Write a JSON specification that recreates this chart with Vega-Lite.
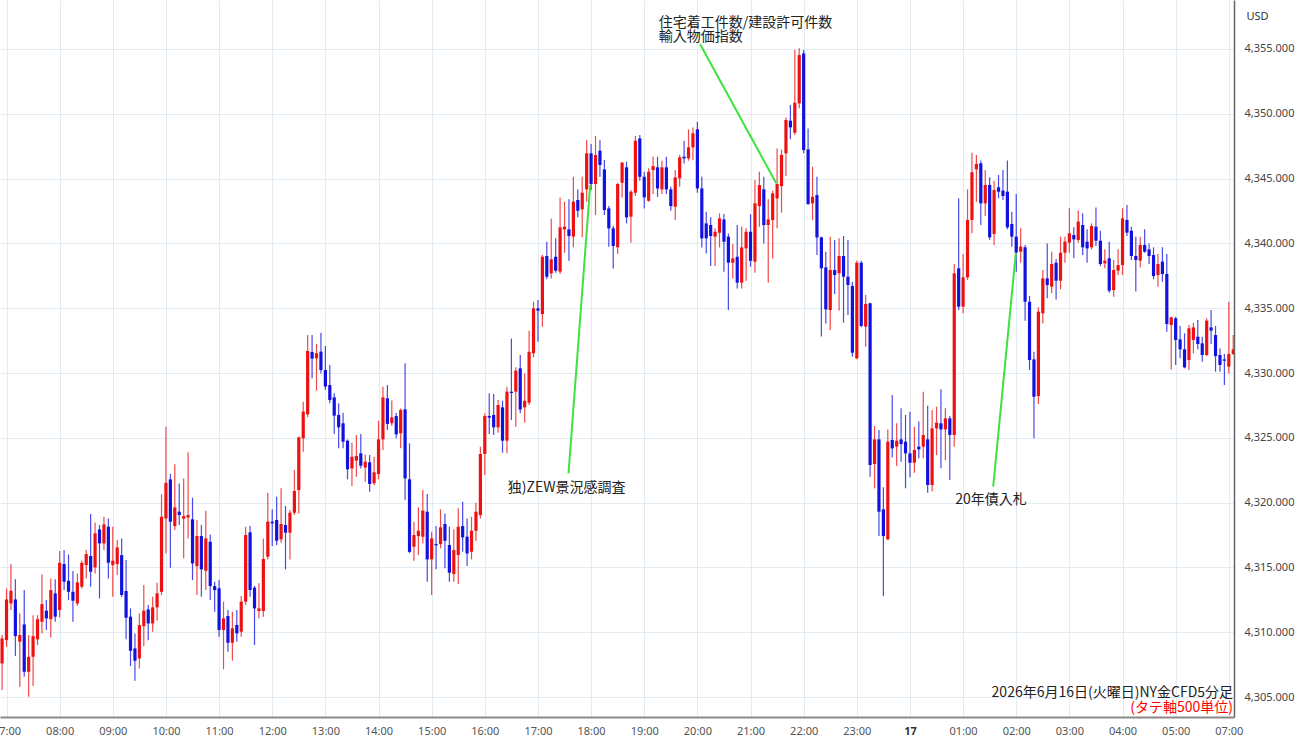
{
"$schema":"https://vega.github.io/schema/vega-lite/v6.json",
"width":1234,"height":717,
"autosize":{"type":"none"},
"padding":{"left":0,"top":0,"right":66,"bottom":28},
"background":"white",
"config":{"view":{"stroke":null},"font":"Noto Sans CJK JP"},
"datasets":{
"candles":[
{"i":-1,"o":4307.59,"h":4309.78,"l":4305.54,"c":4309.52},
{"i":0,"o":4309.39,"h":4313.38,"l":4308.88,"c":4312.53},
{"i":1,"o":4312.22,"h":4315.26,"l":4311.71,"c":4313.20},
{"i":2,"o":4312.53,"h":4314.08,"l":4308.16,"c":4309.70},
{"i":3,"o":4309.27,"h":4311.45,"l":4305.79,"c":4309.78},
{"i":4,"o":4310.60,"h":4313.25,"l":4306.57,"c":4306.95},
{"i":5,"o":4306.95,"h":4309.78,"l":4305.02,"c":4308.11},
{"i":6,"o":4308.11,"h":4311.32,"l":4305.85,"c":4309.70},
{"i":7,"o":4309.45,"h":4311.32,"l":4309.01,"c":4311.01},
{"i":8,"o":4310.81,"h":4314.46,"l":4309.91,"c":4312.17},
{"i":9,"o":4311.66,"h":4312.48,"l":4310.17,"c":4311.07},
{"i":10,"o":4311.01,"h":4314.15,"l":4309.60,"c":4313.25},
{"i":11,"o":4313.00,"h":4314.08,"l":4310.81,"c":4311.20},
{"i":12,"o":4311.71,"h":4316.26,"l":4311.14,"c":4315.36},
{"i":13,"o":4315.26,"h":4316.34,"l":4313.25,"c":4313.90},
{"i":14,"o":4313.97,"h":4316.00,"l":4312.48,"c":4313.12},
{"i":15,"o":4313.12,"h":4314.72,"l":4310.81,"c":4312.43},
{"i":16,"o":4312.22,"h":4314.54,"l":4312.04,"c":4313.84},
{"i":17,"o":4313.51,"h":4315.52,"l":4313.38,"c":4315.36},
{"i":18,"o":4315.18,"h":4316.34,"l":4314.15,"c":4316.03},
{"i":19,"o":4315.88,"h":4319.12,"l":4313.51,"c":4314.67},
{"i":20,"o":4315.00,"h":4318.47,"l":4314.54,"c":4317.63},
{"i":21,"o":4317.93,"h":4318.27,"l":4312.61,"c":4316.85},
{"i":22,"o":4316.85,"h":4318.91,"l":4316.34,"c":4318.32},
{"i":23,"o":4318.14,"h":4318.78,"l":4314.15,"c":4315.36},
{"i":24,"o":4315.18,"h":4318.14,"l":4312.74,"c":4315.52},
{"i":25,"o":4315.26,"h":4317.11,"l":4314.41,"c":4316.54},
{"i":26,"o":4315.95,"h":4317.24,"l":4312.74,"c":4312.87},
{"i":27,"o":4313.18,"h":4315.57,"l":4309.45,"c":4311.12},
{"i":28,"o":4311.20,"h":4311.84,"l":4307.39,"c":4308.57},
{"i":29,"o":4308.75,"h":4309.91,"l":4306.26,"c":4307.80},
{"i":30,"o":4307.98,"h":4311.45,"l":4307.21,"c":4310.55},
{"i":31,"o":4310.47,"h":4313.64,"l":4308.93,"c":4311.66},
{"i":32,"o":4311.76,"h":4312.10,"l":4309.39,"c":4310.68},
{"i":33,"o":4310.68,"h":4312.74,"l":4310.04,"c":4311.92},
{"i":34,"o":4311.92,"h":4313.82,"l":4310.89,"c":4313.00},
{"i":35,"o":4313.12,"h":4320.66,"l":4312.87,"c":4318.91},
{"i":36,"o":4318.78,"h":4325.86,"l":4316.08,"c":4321.53},
{"i":37,"o":4321.79,"h":4322.20,"l":4314.98,"c":4318.53},
{"i":38,"o":4318.19,"h":4322.97,"l":4317.88,"c":4319.63},
{"i":39,"o":4319.30,"h":4321.48,"l":4318.27,"c":4319.04},
{"i":40,"o":4318.76,"h":4321.87,"l":4315.70,"c":4318.96},
{"i":41,"o":4318.86,"h":4323.88,"l":4317.24,"c":4319.04},
{"i":42,"o":4318.71,"h":4320.38,"l":4314.02,"c":4315.31},
{"i":43,"o":4315.10,"h":4318.65,"l":4312.87,"c":4317.42},
{"i":44,"o":4317.42,"h":4318.27,"l":4312.74,"c":4314.85},
{"i":45,"o":4314.74,"h":4319.37,"l":4313.25,"c":4317.24},
{"i":46,"o":4316.98,"h":4317.55,"l":4312.48,"c":4313.56},
{"i":47,"o":4313.56,"h":4313.90,"l":4311.58,"c":4313.25},
{"i":48,"o":4313.39,"h":4314.03,"l":4309.66,"c":4310.17},
{"i":49,"o":4310.17,"h":4312.36,"l":4307.14,"c":4311.07},
{"i":50,"o":4311.25,"h":4311.71,"l":4308.50,"c":4309.19},
{"i":51,"o":4309.19,"h":4311.58,"l":4307.80,"c":4310.30},
{"i":52,"o":4310.56,"h":4311.71,"l":4309.27,"c":4309.91},
{"i":53,"o":4310.04,"h":4312.79,"l":4309.66,"c":4312.36},
{"i":54,"o":4312.36,"h":4318.14,"l":4312.10,"c":4317.50},
{"i":55,"o":4317.71,"h":4318.19,"l":4312.74,"c":4313.26},
{"i":56,"o":4313.44,"h":4313.57,"l":4309.01,"c":4311.84},
{"i":57,"o":4311.64,"h":4313.77,"l":4311.07,"c":4311.84},
{"i":58,"o":4311.64,"h":4317.24,"l":4311.20,"c":4315.65},
{"i":59,"o":4315.83,"h":4320.77,"l":4315.62,"c":4318.53},
{"i":60,"o":4318.53,"h":4319.48,"l":4316.65,"c":4318.40},
{"i":61,"o":4318.66,"h":4320.46,"l":4316.73,"c":4317.06},
{"i":62,"o":4317.17,"h":4321.10,"l":4316.91,"c":4318.35},
{"i":63,"o":4318.27,"h":4319.74,"l":4314.85,"c":4317.68},
{"i":64,"o":4317.68,"h":4319.43,"l":4315.62,"c":4319.22},
{"i":65,"o":4319.22,"h":4322.52,"l":4319.04,"c":4320.90},
{"i":66,"o":4320.97,"h":4325.09,"l":4319.17,"c":4325.04},
{"i":67,"o":4324.96,"h":4327.79,"l":4323.93,"c":4327.02},
{"i":68,"o":4326.81,"h":4332.93,"l":4326.58,"c":4331.70},
{"i":69,"o":4331.62,"h":4332.93,"l":4329.59,"c":4331.11},
{"i":70,"o":4331.13,"h":4332.24,"l":4328.64,"c":4331.52},
{"i":71,"o":4331.65,"h":4333.11,"l":4329.97,"c":4330.23},
{"i":72,"o":4330.23,"h":4332.08,"l":4328.69,"c":4328.95},
{"i":73,"o":4329.07,"h":4330.62,"l":4327.66,"c":4327.92},
{"i":74,"o":4328.12,"h":4328.43,"l":4325.29,"c":4326.71},
{"i":75,"o":4326.76,"h":4327.66,"l":4324.19,"c":4325.81},
{"i":76,"o":4326.12,"h":4326.94,"l":4324.19,"c":4324.70},
{"i":77,"o":4324.78,"h":4324.88,"l":4321.80,"c":4322.57},
{"i":78,"o":4322.64,"h":4324.62,"l":4321.28,"c":4323.54},
{"i":79,"o":4323.24,"h":4325.22,"l":4322.00,"c":4323.60},
{"i":80,"o":4323.80,"h":4325.29,"l":4322.64,"c":4322.85},
{"i":81,"o":4322.70,"h":4323.72,"l":4321.62,"c":4323.16},
{"i":82,"o":4323.11,"h":4323.67,"l":4320.84,"c":4321.44},
{"i":83,"o":4321.49,"h":4323.54,"l":4321.36,"c":4322.34},
{"i":84,"o":4322.21,"h":4326.32,"l":4321.80,"c":4324.88},
{"i":85,"o":4324.88,"h":4328.95,"l":4324.06,"c":4328.12},
{"i":86,"o":4328.05,"h":4329.07,"l":4325.60,"c":4326.07},
{"i":87,"o":4326.12,"h":4327.87,"l":4325.91,"c":4326.58},
{"i":88,"o":4326.68,"h":4326.94,"l":4324.96,"c":4325.27},
{"i":89,"o":4325.35,"h":4327.27,"l":4324.19,"c":4327.15},
{"i":90,"o":4327.20,"h":4330.75,"l":4320.20,"c":4321.87},
{"i":91,"o":4321.80,"h":4324.57,"l":4316.10,"c":4316.20},
{"i":92,"o":4316.60,"h":4318.53,"l":4315.52,"c":4317.50},
{"i":93,"o":4317.42,"h":4319.64,"l":4315.96,"c":4317.83},
{"i":94,"o":4317.37,"h":4320.97,"l":4316.86,"c":4319.38},
{"i":95,"o":4319.30,"h":4320.66,"l":4313.90,"c":4315.62},
{"i":96,"o":4315.62,"h":4317.76,"l":4312.87,"c":4317.24},
{"i":97,"o":4316.80,"h":4318.19,"l":4314.85,"c":4316.70},
{"i":98,"o":4316.80,"h":4319.48,"l":4316.47,"c":4318.09},
{"i":99,"o":4318.35,"h":4319.17,"l":4314.93,"c":4317.06},
{"i":100,"o":4316.73,"h":4318.14,"l":4313.90,"c":4314.59},
{"i":101,"o":4314.49,"h":4317.94,"l":4313.90,"c":4316.34},
{"i":102,"o":4315.96,"h":4319.56,"l":4313.72,"c":4318.14},
{"i":103,"o":4318.19,"h":4320.07,"l":4316.21,"c":4317.32},
{"i":104,"o":4317.37,"h":4318.78,"l":4315.11,"c":4316.08},
{"i":105,"o":4316.21,"h":4318.91,"l":4315.62,"c":4317.83},
{"i":106,"o":4317.83,"h":4319.99,"l":4317.06,"c":4319.30},
{"i":107,"o":4319.04,"h":4324.31,"l":4318.78,"c":4323.75},
{"i":108,"o":4323.75,"h":4326.89,"l":4322.13,"c":4326.68},
{"i":109,"o":4326.68,"h":4328.43,"l":4325.29,"c":4326.55},
{"i":110,"o":4326.76,"h":4328.38,"l":4325.21,"c":4325.81},
{"i":111,"o":4325.81,"h":4327.92,"l":4325.39,"c":4327.53},
{"i":112,"o":4327.35,"h":4327.86,"l":4323.85,"c":4324.78},
{"i":113,"o":4324.78,"h":4328.94,"l":4323.80,"c":4328.56},
{"i":114,"o":4328.56,"h":4332.67,"l":4326.37,"c":4328.46},
{"i":115,"o":4328.56,"h":4330.44,"l":4325.86,"c":4330.18},
{"i":116,"o":4330.36,"h":4331.39,"l":4326.89,"c":4327.19},
{"i":117,"o":4327.35,"h":4329.97,"l":4326.17,"c":4327.86},
{"i":118,"o":4327.71,"h":4333.26,"l":4327.53,"c":4331.64},
{"i":119,"o":4331.52,"h":4335.50,"l":4331.21,"c":4334.99},
{"i":120,"o":4334.99,"h":4335.63,"l":4332.42,"c":4334.81},
{"i":121,"o":4334.55,"h":4339.10,"l":4333.57,"c":4338.97},
{"i":122,"o":4339.03,"h":4340.13,"l":4337.23,"c":4337.43},
{"i":123,"o":4337.69,"h":4341.93,"l":4337.30,"c":4338.77},
{"i":124,"o":4338.97,"h":4340.39,"l":4337.74,"c":4337.89},
{"i":125,"o":4337.82,"h":4343.55,"l":4337.64,"c":4341.24},
{"i":126,"o":4341.08,"h":4343.22,"l":4339.28,"c":4341.29},
{"i":127,"o":4341.08,"h":4343.40,"l":4338.67,"c":4340.57},
{"i":128,"o":4340.52,"h":4345.15,"l":4339.70,"c":4343.22},
{"i":129,"o":4343.35,"h":4344.17,"l":4342.01,"c":4342.52},
{"i":130,"o":4342.63,"h":4345.15,"l":4340.47,"c":4343.91},
{"i":131,"o":4344.17,"h":4347.98,"l":4343.22,"c":4346.95},
{"i":132,"o":4346.95,"h":4347.67,"l":4344.12,"c":4344.58},
{"i":133,"o":4344.58,"h":4348.29,"l":4342.19,"c":4346.82},
{"i":134,"o":4347.15,"h":4347.98,"l":4345.15,"c":4346.05},
{"i":135,"o":4345.71,"h":4346.43,"l":4342.19,"c":4342.58},
{"i":136,"o":4342.70,"h":4342.88,"l":4339.75,"c":4341.16},
{"i":137,"o":4341.16,"h":4341.34,"l":4338.07,"c":4339.80},
{"i":138,"o":4339.70,"h":4344.68,"l":4339.18,"c":4344.58},
{"i":139,"o":4344.68,"h":4346.30,"l":4343.55,"c":4346.23},
{"i":140,"o":4345.87,"h":4346.30,"l":4341.54,"c":4342.01},
{"i":141,"o":4342.06,"h":4344.12,"l":4340.05,"c":4343.99},
{"i":142,"o":4343.91,"h":4348.28,"l":4343.65,"c":4347.92},
{"i":143,"o":4348.10,"h":4348.36,"l":4344.84,"c":4345.14},
{"i":144,"o":4345.14,"h":4345.53,"l":4342.70,"c":4343.55},
{"i":145,"o":4343.29,"h":4345.79,"l":4343.22,"c":4345.53},
{"i":146,"o":4345.66,"h":4346.69,"l":4343.81,"c":4345.97},
{"i":147,"o":4345.87,"h":4346.69,"l":4343.60,"c":4344.24},
{"i":148,"o":4344.17,"h":4346.38,"l":4343.81,"c":4345.87},
{"i":149,"o":4345.87,"h":4346.69,"l":4343.81,"c":4344.17},
{"i":150,"o":4344.17,"h":4344.37,"l":4342.52,"c":4342.88},
{"i":151,"o":4342.83,"h":4345.66,"l":4341.80,"c":4345.09},
{"i":152,"o":4345.02,"h":4346.82,"l":4344.37,"c":4346.64},
{"i":153,"o":4346.69,"h":4347.92,"l":4346.17,"c":4346.56},
{"i":154,"o":4346.56,"h":4348.80,"l":4346.38,"c":4347.41},
{"i":155,"o":4347.41,"h":4348.95,"l":4346.43,"c":4348.49},
{"i":156,"o":4348.80,"h":4349.39,"l":4343.91,"c":4344.24},
{"i":157,"o":4344.24,"h":4345.14,"l":4339.69,"c":4340.39},
{"i":158,"o":4341.54,"h":4342.44,"l":4339.23,"c":4340.39},
{"i":159,"o":4341.42,"h":4342.01,"l":4338.25,"c":4340.57},
{"i":160,"o":4340.52,"h":4341.16,"l":4338.25,"c":4340.90},
{"i":161,"o":4340.82,"h":4342.32,"l":4339.69,"c":4341.93},
{"i":162,"o":4341.85,"h":4342.26,"l":4337.81,"c":4340.13},
{"i":163,"o":4340.52,"h":4340.77,"l":4334.86,"c":4338.51},
{"i":164,"o":4338.51,"h":4339.95,"l":4337.30,"c":4338.84},
{"i":165,"o":4338.97,"h":4341.42,"l":4336.53,"c":4336.97},
{"i":166,"o":4336.97,"h":4341.29,"l":4336.53,"c":4339.69},
{"i":167,"o":4339.62,"h":4341.16,"l":4337.12,"c":4340.90},
{"i":168,"o":4340.90,"h":4342.26,"l":4338.20,"c":4338.66},
{"i":169,"o":4338.59,"h":4344.89,"l":4337.74,"c":4343.09},
{"i":170,"o":4342.88,"h":4345.53,"l":4341.29,"c":4344.50},
{"i":171,"o":4344.17,"h":4345.14,"l":4340.00,"c":4341.42},
{"i":172,"o":4341.42,"h":4343.40,"l":4336.97,"c":4341.85},
{"i":173,"o":4341.80,"h":4344.06,"l":4338.84,"c":4343.86},
{"i":174,"o":4343.47,"h":4347.33,"l":4341.16,"c":4344.58},
{"i":175,"o":4344.42,"h":4347.25,"l":4342.37,"c":4346.82},
{"i":176,"o":4346.95,"h":4349.72,"l":4345.20,"c":4349.52},
{"i":177,"o":4349.47,"h":4350.67,"l":4348.03,"c":4348.95},
{"i":178,"o":4348.54,"h":4354.92,"l":4348.36,"c":4350.85},
{"i":179,"o":4350.80,"h":4355.05,"l":4350.42,"c":4354.53},
{"i":180,"o":4354.66,"h":4354.92,"l":4346.95,"c":4347.20},
{"i":181,"o":4347.25,"h":4348.87,"l":4342.96,"c":4343.04},
{"i":182,"o":4343.09,"h":4345.92,"l":4341.80,"c":4343.60},
{"i":183,"o":4343.73,"h":4345.14,"l":4339.10,"c":4340.46},
{"i":184,"o":4340.47,"h":4340.52,"l":4332.81,"c":4338.08},
{"i":185,"o":4338.15,"h":4339.36,"l":4333.83,"c":4334.91},
{"i":186,"o":4334.86,"h":4340.52,"l":4333.32,"c":4337.95},
{"i":187,"o":4337.95,"h":4340.26,"l":4336.10,"c":4337.56},
{"i":188,"o":4337.69,"h":4340.39,"l":4334.81,"c":4339.03},
{"i":189,"o":4339.03,"h":4340.57,"l":4333.89,"c":4337.43},
{"i":190,"o":4337.43,"h":4340.26,"l":4334.48,"c":4336.79},
{"i":191,"o":4336.71,"h":4337.05,"l":4331.26,"c":4331.57},
{"i":192,"o":4331.13,"h":4338.67,"l":4331.06,"c":4338.51},
{"i":193,"o":4338.51,"h":4338.67,"l":4333.53,"c":4333.63},
{"i":194,"o":4333.58,"h":4336.02,"l":4332.03,"c":4335.33},
{"i":195,"o":4335.38,"h":4335.43,"l":4322.00,"c":4322.90},
{"i":196,"o":4322.98,"h":4325.91,"l":4321.10,"c":4324.88},
{"i":197,"o":4324.88,"h":4325.60,"l":4317.42,"c":4319.30},
{"i":198,"o":4319.48,"h":4321.18,"l":4312.79,"c":4317.42},
{"i":199,"o":4317.17,"h":4325.65,"l":4317.10,"c":4324.70},
{"i":200,"o":4324.83,"h":4328.30,"l":4323.49,"c":4324.19},
{"i":201,"o":4324.32,"h":4326.12,"l":4322.83,"c":4324.78},
{"i":202,"o":4324.88,"h":4327.28,"l":4323.16,"c":4324.52},
{"i":203,"o":4324.70,"h":4326.76,"l":4321.10,"c":4323.80},
{"i":204,"o":4323.80,"h":4327.02,"l":4321.95,"c":4323.08},
{"i":205,"o":4323.08,"h":4325.86,"l":4322.31,"c":4324.06},
{"i":206,"o":4324.32,"h":4326.25,"l":4323.42,"c":4324.11},
{"i":207,"o":4324.32,"h":4328.56,"l":4323.42,"c":4325.22},
{"i":208,"o":4324.88,"h":4327.48,"l":4320.77,"c":4321.36},
{"i":209,"o":4321.36,"h":4327.15,"l":4320.85,"c":4325.73},
{"i":210,"o":4325.73,"h":4327.40,"l":4323.67,"c":4326.17},
{"i":211,"o":4326.12,"h":4328.74,"l":4322.65,"c":4325.65},
{"i":212,"o":4325.65,"h":4327.28,"l":4323.29,"c":4326.50},
{"i":213,"o":4326.50,"h":4326.68,"l":4321.75,"c":4325.22},
{"i":214,"o":4325.22,"h":4338.41,"l":4324.32,"c":4337.69},
{"i":215,"o":4338.08,"h":4343.48,"l":4334.86,"c":4335.12},
{"i":216,"o":4335.12,"h":4339.18,"l":4334.61,"c":4337.38},
{"i":217,"o":4337.38,"h":4344.17,"l":4337.18,"c":4341.81},
{"i":218,"o":4341.81,"h":4347.00,"l":4340.78,"c":4345.49},
{"i":219,"o":4345.72,"h":4346.82,"l":4343.22,"c":4346.13},
{"i":220,"o":4346.18,"h":4346.39,"l":4341.42,"c":4343.09},
{"i":221,"o":4343.09,"h":4345.67,"l":4342.12,"c":4344.51},
{"i":222,"o":4344.51,"h":4345.10,"l":4340.26,"c":4340.47},
{"i":223,"o":4340.73,"h":4344.84,"l":4339.88,"c":4344.12},
{"i":224,"o":4344.33,"h":4345.28,"l":4343.48,"c":4343.99},
{"i":225,"o":4344.07,"h":4345.67,"l":4343.35,"c":4343.66},
{"i":226,"o":4343.99,"h":4346.39,"l":4341.09,"c":4341.24},
{"i":227,"o":4341.50,"h":4342.45,"l":4339.75,"c":4340.52},
{"i":228,"o":4340.52,"h":4343.81,"l":4337.82,"c":4339.29},
{"i":229,"o":4339.36,"h":4341.16,"l":4338.51,"c":4339.75},
{"i":230,"o":4339.70,"h":4339.88,"l":4334.04,"c":4335.50},
{"i":231,"o":4335.50,"h":4335.94,"l":4330.23,"c":4331.00},
{"i":232,"o":4331.05,"h":4331.65,"l":4324.96,"c":4328.17},
{"i":233,"o":4328.22,"h":4335.07,"l":4327.61,"c":4334.73},
{"i":234,"o":4334.60,"h":4337.95,"l":4333.83,"c":4337.30},
{"i":235,"o":4337.30,"h":4340.00,"l":4335.76,"c":4336.79},
{"i":236,"o":4336.66,"h":4339.36,"l":4336.15,"c":4338.41},
{"i":237,"o":4338.51,"h":4338.77,"l":4335.68,"c":4337.12},
{"i":238,"o":4337.12,"h":4340.52,"l":4336.46,"c":4339.28},
{"i":239,"o":4339.28,"h":4340.52,"l":4338.51,"c":4340.13},
{"i":240,"o":4340.06,"h":4342.71,"l":4339.28,"c":4340.78},
{"i":241,"o":4340.65,"h":4341.24,"l":4338.85,"c":4340.31},
{"i":242,"o":4340.26,"h":4342.53,"l":4340.06,"c":4341.68},
{"i":243,"o":4341.42,"h":4342.32,"l":4339.10,"c":4339.70},
{"i":244,"o":4340.13,"h":4341.09,"l":4338.51,"c":4339.62},
{"i":245,"o":4339.70,"h":4341.55,"l":4339.54,"c":4341.34},
{"i":246,"o":4341.29,"h":4342.78,"l":4339.80,"c":4340.21},
{"i":247,"o":4340.21,"h":4340.98,"l":4338.26,"c":4338.41},
{"i":248,"o":4338.46,"h":4339.54,"l":4338.08,"c":4338.67},
{"i":249,"o":4338.85,"h":4340.13,"l":4336.20,"c":4336.35},
{"i":250,"o":4336.40,"h":4338.72,"l":4335.89,"c":4337.95},
{"i":251,"o":4337.90,"h":4339.54,"l":4337.56,"c":4338.33},
{"i":252,"o":4338.33,"h":4342.71,"l":4337.56,"c":4341.93},
{"i":253,"o":4341.81,"h":4342.96,"l":4340.57,"c":4340.83},
{"i":254,"o":4340.98,"h":4341.29,"l":4338.72,"c":4339.03},
{"i":255,"o":4339.03,"h":4340.52,"l":4336.28,"c":4338.72},
{"i":256,"o":4338.67,"h":4340.52,"l":4338.15,"c":4339.88},
{"i":257,"o":4339.88,"h":4341.09,"l":4339.28,"c":4339.36},
{"i":258,"o":4339.54,"h":4340.00,"l":4338.41,"c":4339.03},
{"i":259,"o":4339.10,"h":4339.70,"l":4337.23,"c":4337.48},
{"i":260,"o":4337.56,"h":4339.18,"l":4336.66,"c":4338.41},
{"i":261,"o":4338.59,"h":4339.70,"l":4337.05,"c":4337.64},
{"i":262,"o":4337.64,"h":4339.18,"l":4333.19,"c":4333.78},
{"i":263,"o":4333.70,"h":4334.35,"l":4330.28,"c":4334.30},
{"i":264,"o":4334.22,"h":4334.35,"l":4330.62,"c":4332.55},
{"i":265,"o":4332.60,"h":4333.63,"l":4331.13,"c":4331.83},
{"i":266,"o":4331.83,"h":4333.06,"l":4330.36,"c":4330.44},
{"i":267,"o":4331.00,"h":4333.70,"l":4330.23,"c":4333.45},
{"i":268,"o":4332.55,"h":4333.88,"l":4331.52,"c":4333.52},
{"i":269,"o":4332.80,"h":4334.09,"l":4331.83,"c":4332.24},
{"i":270,"o":4332.29,"h":4332.80,"l":4330.87,"c":4331.39},
{"i":271,"o":4331.39,"h":4334.22,"l":4331.31,"c":4334.04},
{"i":272,"o":4333.52,"h":4334.86,"l":4332.24,"c":4333.27},
{"i":273,"o":4332.93,"h":4333.63,"l":4330.10,"c":4331.31},
{"i":274,"o":4331.39,"h":4331.90,"l":4330.10,"c":4330.62},
{"i":275,"o":4331.05,"h":4331.47,"l":4329.07,"c":4330.95},
{"i":276,"o":4330.49,"h":4335.50,"l":4329.97,"c":4331.47},
{"i":277,"o":4331.47,"h":4332.93,"l":4331.39,"c":4331.83}
],
"links":[
{"g":1,"i":126.9,"p":4322.26},{"g":1,"i":131.8,"p":4344.50},
{"g":2,"i":156.6,"p":4355.39},{"g":2,"i":173.8,"p":4344.64},
{"g":3,"i":222.8,"p":4321.23},{"g":3,"i":227.9,"p":4339.24}
],
"events":[
{"i":113.2,"p":4321.13,"text":"独)ZEW景況感調査"},
{"i":147.3,"p":4357.04,"text":"住宅着工件数/建設許可件数"},
{"i":147.3,"p":4355.93,"text":"輸入物価指数"},
{"i":214.2,"p":4320.20,"text":"20年債入札"}
]
},
"layer":[
{"data":{"name":"candles"},
 "mark":{"type":"rule","strokeWidth":1.2,"opacity":0.8,"clip":true},
 "encoding":{
  "x":{"field":"i","type":"quantitative","scale":{"domain":[-1.47,277.17],"nice":false,"zero":false},
   "axis":{"title":null,"values":[0,12,24,36,48,60,72,84,96,108,120,132,144,156,168,180,192,204,216,228,240,252,264,276],
    "labelExpr":"['07:00','08:00','09:00','10:00','11:00','12:00','13:00','14:00','15:00','16:00','17:00','18:00','19:00','20:00','21:00','22:00','23:00','17','01:00','02:00','03:00','04:00','05:00','07:00'][round(datum.value/12)]",
    "grid":true,"gridColor":"#e3ecf4","gridWidth":1,"ticks":false,"domainColor":"#8a8a8a","domainWidth":2,
    "labelColor":{"condition":{"test":"datum.value == 204","value":"#333333"},"value":"#555555"},
    "labelFontWeight":{"condition":{"test":"datum.value == 204","value":"bold"},"value":"normal"},
    "labelFont":"Noto Sans","labelFontSize":11,"labelPadding":8,"labelOverlap":false,"labelBound":false,"labelFlush":false}},
  "y":{"field":"l","type":"quantitative","scale":{"domain":[4303.46,4358.78],"nice":false,"zero":false},
   "axis":{"orient":"right","title":"USD","titleAngle":0,"titleX":12,"titleY":16,"titleAlign":"left","titleBaseline":"middle","titleFontWeight":"normal","titleFontSize":11,"titleFont":"Noto Sans","titleColor":"#333333",
    "values":[4305,4307.5,4310,4312.5,4315,4317.5,4320,4322.5,4325,4327.5,4330,4332.5,4335,4337.5,4340,4342.5,4345,4347.5,4350,4352.5,4355],
    "format":",.3f","grid":true,"gridColor":"#e3ecf4","gridWidth":1,"ticks":false,"domainColor":"#666666","domainWidth":1.5,
    "labelColor":"#444444","labelFont":"Noto Sans","labelFontSize":11,"labelPadding":10,"labelOverlap":false,"labelBound":false,"labelFlush":false}},
  "y2":{"field":"h"},
  "color":{"condition":{"test":"datum.c >= datum.o","value":"#ee1c1c"},"value":"#1c1ce6"}
 }},
{"data":{"name":"candles"},
 "mark":{"type":"rule","strokeWidth":3.2,"strokeCap":"butt","clip":true},
 "encoding":{
  "x":{"field":"i","type":"quantitative","scale":{"domain":[-1.47,277.17],"nice":false,"zero":false}},
  "y":{"field":"o","type":"quantitative","scale":{"domain":[4303.46,4358.78],"nice":false,"zero":false}},
  "y2":{"field":"c"},
  "color":{"condition":{"test":"datum.c >= datum.o","value":"#ee1111"},"value":"#1111e0"}
 }},
{"data":{"name":"links"},
 "mark":{"type":"line","color":"#3de23d","strokeWidth":2},
 "encoding":{
  "x":{"field":"i","type":"quantitative","scale":{"domain":[-1.47,277.17],"nice":false,"zero":false}},
  "y":{"field":"p","type":"quantitative","scale":{"domain":[4303.46,4358.78],"nice":false,"zero":false}},
  "detail":{"field":"g"}
 }},
{"data":{"name":"events"},
 "mark":{"type":"text","font":"Noto Sans CJK JP","fontSize":14,"align":"left","baseline":"middle","color":"#222222"},
 "encoding":{
  "x":{"field":"i","type":"quantitative","scale":{"domain":[-1.47,277.17],"nice":false,"zero":false}},
  "y":{"field":"p","type":"quantitative","scale":{"domain":[4303.46,4358.78],"nice":false,"zero":false}},
  "text":{"field":"text"}
 }},
{"data":{"values":[{"i":276.96,"p":4305.31,"text":"2026年6月16日(火曜日)NY金CFD5分足"}]},
 "mark":{"type":"text","font":"Noto Sans CJK JP","fontSize":14,"align":"right","baseline":"middle","color":"#222222"},
 "encoding":{
  "x":{"field":"i","type":"quantitative","scale":{"domain":[-1.47,277.17],"nice":false,"zero":false}},
  "y":{"field":"p","type":"quantitative","scale":{"domain":[4303.46,4358.78],"nice":false,"zero":false}},
  "text":{"field":"text"}
 }},
{"data":{"values":[{"i":276.96,"p":4304.15,"text":"(タテ軸500単位)"}]},
 "mark":{"type":"text","font":"Noto Sans CJK JP","fontSize":14,"align":"right","baseline":"middle","color":"#ff0000"},
 "encoding":{
  "x":{"field":"i","type":"quantitative","scale":{"domain":[-1.47,277.17],"nice":false,"zero":false}},
  "y":{"field":"p","type":"quantitative","scale":{"domain":[4303.46,4358.78],"nice":false,"zero":false}},
  "text":{"field":"text"}
 }}
]
}
